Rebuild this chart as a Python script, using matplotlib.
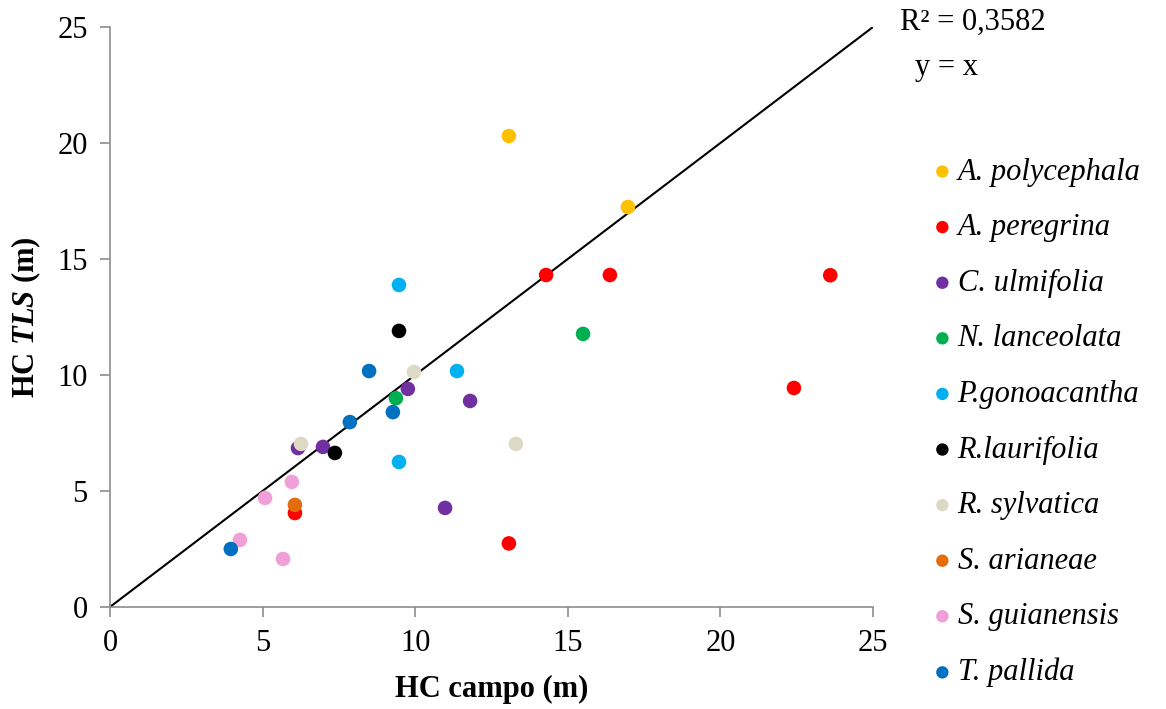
import matplotlib
matplotlib.use('Agg')
from matplotlib import pyplot as plt

plt.rcParams['font.family'] = ['Liberation Serif', 'DejaVu Serif']
plt.rcParams['mathtext.fontset'] = 'custom'
plt.rcParams['mathtext.it'] = 'Liberation Serif:italic:bold'

species = ['A. polycephala', 'A. peregrina', 'C. ulmifolia', 'N. lanceolata',
           'P.gonoacantha', 'R.laurifolia', 'R. sylvatica', 'S. arianeae',
           'S. guianensis', 'T. pallida']
colors = ['#FFC000', '#FF0000', '#7030A0', '#00B050', '#00B0F0',
          '#000000', '#DDD9C4', '#E46C0A', '#F09FD8', '#0070C0']

# HC campo (x) and HC TLS (y) per species
x_poly = [13.07, 16.97]
y_poly = [20.3, 17.24]
x_pere = [14.29, 16.38, 23.6, 22.41, 13.07, 6.06]
y_pere = [14.31, 14.31, 14.3, 9.44, 2.74, 4.05]
x_ulmi = [9.76, 11.8, 6.16, 6.98, 10.98]
y_ulmi = [9.40, 8.88, 6.85, 6.9, 4.27]
x_lanc = [15.5, 9.37]
y_lanc = [11.77, 9.0]
x_gono = [9.47, 11.37, 9.47]
y_gono = [13.88, 10.17, 6.25]
x_laur = [9.47, 7.37]
y_laur = [11.9, 6.64]
x_sylv = [9.96, 6.26, 13.3]
y_sylv = [10.13, 7.03, 7.03]
x_aria = [6.06]
y_aria = [4.4]
x_guia = [5.96, 5.08, 4.26, 5.67]
y_guia = [5.39, 4.7, 2.89, 2.07]
x_pall = [8.49, 9.27, 7.86, 3.96]
y_pall = [10.17, 8.4, 7.97, 2.5]

xs = [x_poly, x_pere, x_ulmi, x_lanc, x_gono, x_laur, x_sylv, x_aria, x_guia, x_pall]
ys = [y_poly, y_pere, y_ulmi, y_lanc, y_gono, y_laur, y_sylv, y_aria, y_guia, y_pall]

line_x = [0, 25]
line_y = [0, 25]

fig = plt.figure(figsize=(11.66, 7.09), dpi=100)
ax = fig.add_axes([0.0943, 0.1439, 0.6544, 0.818])

ax.plot(line_x, line_y, color='black', lw=1.5, zorder=1)
handles = []
for xv, yv, c, name in zip(xs, ys, colors, species):
    h = ax.scatter(xv, yv, s=110, color=c, edgecolors='none', label=name, zorder=2)
    handles.append(h)

ax.set_xlim(0, 25)
ax.set_ylim(0, 25)
ax.set_xticks([0, 5, 10, 15, 20, 25])
ax.set_yticks([0, 5, 10, 15, 20, 25])
for s in ['top', 'right']:
    ax.spines[s].set_visible(False)
for s in ['left', 'bottom']:
    ax.spines[s].set_color('#8C8C8C')
    ax.spines[s].set_linewidth(1.2)
ax.tick_params(axis='both', direction='out', length=7, width=1.2,
               color='#8C8C8C', labelsize=22, pad=9)

ax.set_xlabel('HC campo (m)', fontsize=22, fontweight='bold', labelpad=12)
ax.set_ylabel(r'HC $\mathit{TLS}$ (m)', fontsize=22, fontweight='bold', labelpad=10)

fig.text(0.772, 0.968, 'R² = 0,3582', fontsize=22, va='center', ha='left')
fig.text(0.785, 0.905, 'y = x', fontsize=22, va='center', ha='left')

leg = fig.legend(handles=handles, loc='upper left', bbox_to_anchor=(0.782, 0.795),
                 frameon=False, prop={'family': 'Liberation Serif', 'style': 'italic', 'size': 22},
                 handletextpad=-0.1, labelspacing=0.87, borderaxespad=0, scatterpoints=1,
                 markerscale=0.85, handlelength=1.2)

fig.savefig('out.png', dpi=100)
